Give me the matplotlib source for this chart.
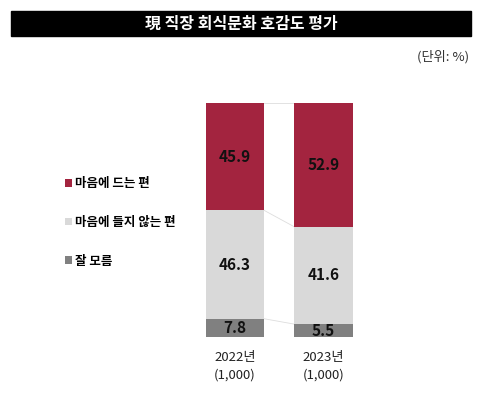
import matplotlib.pyplot as plt
from matplotlib.patches import Rectangle

plt.rcParams['font.family'] = ['Noto Sans CJK KR', 'DejaVu Sans']

# data
years = ['2022년', '2023년']
samples = ['(1,000)', '(1,000)']
series = ['잘 모름', '마음에 들지 않는 편', '마음에 드는 편']  # bottom -> top
dont_know = [7.8, 5.5]
dislike = [46.3, 41.6]
like = [45.9, 52.9]
colors = ['#808080', '#D9D9D9', '#A3243F']

fig = plt.figure(figsize=(4.8, 4.0), dpi=100)

# title bar
fig.patches.append(Rectangle((11/480, 1 - 36/400), 460/480, 25/400,
                             transform=fig.transFigure, color='black', zorder=0))
fig.text(241/480, 1 - 23.5/400, '現 직장 회식문화 호감도 평가', color='white',
         fontsize=11.5, fontweight='bold', ha='center', va='center')
fig.text(469/480, 1 - 57/400, '(단위: %)', fontsize=9.5, ha='right', va='center', color='#333333')

# axes placed in pixels: x 180..380, y 103..337
ax = fig.add_axes([180/480, (400 - 337)/400, 200/480, 234/400])
ax.set_xlim((180 - 235)/88.5, (380 - 235)/88.5)
ax.set_ylim(0, 100)
ax.axis('off')

x = [0, 1]
w = 0.66
bottoms = [0, 0]
bars = []
for name, vals, c in zip(series, [dont_know, dislike, like], colors):
    b = ax.bar(x, vals, width=w, bottom=bottoms, color=c, label=name)
    bars.append(b)
    for xi, v, bt in zip(x, vals, bottoms):
        ax.text(xi, bt + v/2, f'{v:.1f}', ha='center', va='center',
                fontsize=11, fontweight='bold', color='#111111')
    bottoms = [bt + v for bt, v in zip(bottoms, vals)]
    # connector lines between bars at top of each segment
    ax.plot([x[0] + w/2, x[1] - w/2], bottoms, color='#DDDDDD', lw=0.6, zorder=0)

for xi, yr, n in zip(x, years, samples):
    ax.text(xi, -6, yr + '\n' + n, ha='center', va='top', fontsize=9.5,
            linespacing=1.45, color='#222222')

handles = [bars[2], bars[1], bars[0]]
fig.legend(handles, [series[2], series[1], series[0]], loc='upper left',
           bbox_to_anchor=(54/480, 1 - 166/400), frameon=False,
           handlelength=0.55, handleheight=0.55, handletextpad=0.25,
           labelspacing=2.05, prop={'weight': 'bold', 'size': 9})

fig.savefig('out.png', dpi=100)
